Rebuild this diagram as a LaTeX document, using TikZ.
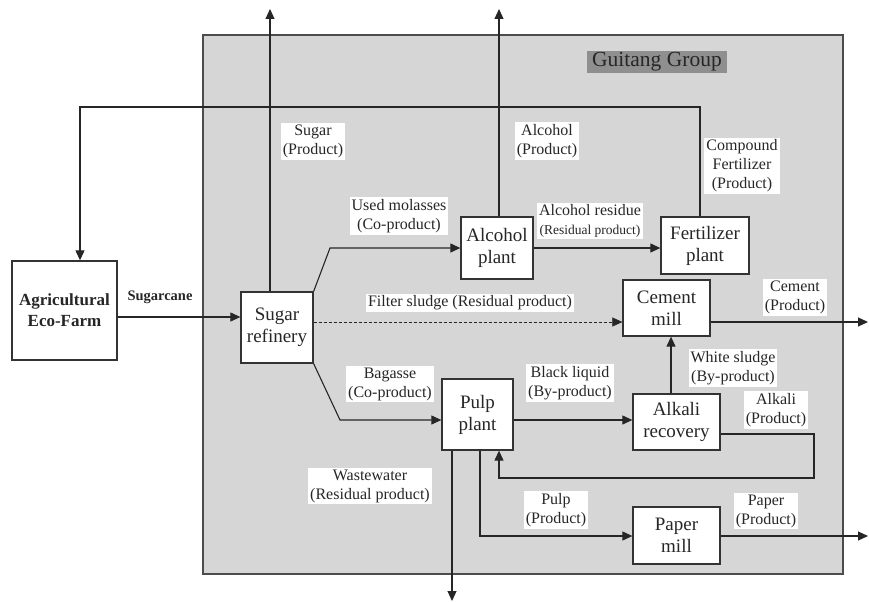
\documentclass[tikz,border=0pt]{standalone}
\usepackage{fontspec}
\setmainfont{Liberation Serif}
\usepackage{xcolor}
\usepackage{tikz}
\usetikzlibrary{arrows.meta,positioning,calc}
\definecolor{groupbg}{gray}{0.84}
\definecolor{tagbg}{gray}{0.56}

\begin{document}
\begin{tikzpicture}[x=1pt, y=-1pt,
  every node/.style={font=\fontsize{16}{19}\selectfont, text=black!85},
  plant/.style={draw=black!80, line width=1.3pt, fill=white, align=center, inner sep=0pt, font=\fontsize{19}{22}\selectfont},
  tag/.style={fill=white, align=center, inner sep=2pt},
  flow/.style={-{Triangle[length=10pt, width=9pt]}, line width=1.1pt, black!85},
]
\useasboundingbox (0,0) rectangle (869,602);
\fill[groupbg, draw=black!70, line width=1.2pt] (203,35) rectangle (843,574);
\node[fill=tagbg, inner xsep=5pt, inner ysep=1.5pt, font=\fontsize{21.5}{23}\selectfont] (grouptag) at (657,62) {Guitang Group};

\node[plant, minimum width=105pt, minimum height=99pt, font=\bfseries\fontsize{17}{21}\selectfont] (farm) at (64.5,310.5) {Agricultural\\Eco-Farm};
\node[plant, minimum width=72pt, minimum height=71pt] (refinery) at (277,327.5) {Sugar\\refinery};
\node[plant, minimum width=72pt, minimum height=62pt] (alcohol) at (497,248) {Alcohol\\plant};
\node[plant, minimum width=88pt, minimum height=57pt] (fert) at (705,245.5) {Fertilizer\\plant};
\node[plant, minimum width=87pt, minimum height=56pt] (cement) at (666.5,308) {Cement\\mill};
\node[plant, minimum width=71pt, minimum height=71pt] (pulp) at (477.5,414.5) {Pulp\\plant};
\node[plant, minimum width=87pt, minimum height=56pt] (alkali) at (676.5,422) {Alkali\\recovery};
\node[plant, minimum width=87pt, minimum height=57pt] (paper) at (676.5,535.5) {Paper\\mill};

\coordinate (sugarout) at (270,9);
\coordinate (alcout) at (499,9);
\coordinate (fbturn) at (700,107);
\coordinate (fbcorner) at (80,107);
\coordinate (canerow) at (0,317);
\coordinate (molbend) at (330,248);
\coordinate (sludgerow) at (0,322);
\coordinate (cementout) at (868,322);
\coordinate (bagbend) at (340,420);
\coordinate (wsline) at (671,0);
\coordinate (alkturn) at (814,434);
\coordinate (alkback) at (814,478);
\coordinate (alkin) at (499,478);
\coordinate (wwout) at (452,601);
\coordinate (pulpbend) at (480,536);
\coordinate (paperout) at (868,536);

\draw[flow] (refinery.north -| sugarout) -- (sugarout);
\draw[flow] (alcohol.north -| alcout) -- (alcout);
\draw[flow] (fert.north -| fbturn) -- (fbturn) -- (fbcorner) -- (farm.north -| fbcorner);
\draw[flow] (farm.east |- canerow) -- (refinery.west |- canerow);
\draw[flow] (refinery.north east) -- (molbend) -- (alcohol.west);
\draw[flow] (alcohol.east) -- (alcohol.east -| fert.west);
\draw[flow, line width=0.6pt, dash pattern=on 3pt off 2pt] (refinery.east |- sludgerow) -- (cement.west |- sludgerow);
\draw[flow] (cement.east |- sludgerow) -- (cementout);
\draw[flow] (refinery.south east) -- (bagbend) -- (pulp.west |- bagbend);
\draw[flow] (pulp.east |- bagbend) -- (alkali.west |- bagbend);
\draw[flow] (alkali.north -| wsline) -- (cement.south -| wsline);
\draw[flow] (alkali.east |- alkturn) -- (alkturn) -- (alkback) -- (alkin) -- (pulp.south -| alkin);
\draw[flow] (pulp.south -| wwout) -- (wwout);
\draw[flow] (pulp.south -| pulpbend) -- (pulpbend) -- (paper.west |- pulpbend);
\draw[flow] (paper.east |- pulpbend) -- (paperout);

\node[font=\bfseries\fontsize{14.5}{17}\selectfont] (canetag) at (160,297) {Sugarcane};
\node[tag] (sugartag) at (313,141) {Sugar\\(Product)};
\node[tag] (moltag) at (399,216) {Used molasses\\(Co-product)};
\node[tag] (alctag) at (547,141) {Alcohol\\(Product)};
\node[tag] (restag) at (590,221) {Alcohol residue\\{\fontsize{13.5}{16}\selectfont(Residual product)}};
\node[tag] (comptag) at (742,166) {Compound\\Fertilizer\\(Product)};
\node[tag] (cemtag) at (795,297) {Cement\\(Product)};
\node[tag] (sludgetag) at (470,303) {Filter sludge (Residual product)};
\node[tag] (bagtag) at (390,384) {Bagasse\\(Co-product)};
\node[tag] (blacktag) at (570,383) {Black liquid\\(By-product)};
\node[tag] (whitetag) at (733,368) {White sludge\\(By-product)};
\node[tag] (alktag) at (776,410) {Alkali\\(Product)};
\node[tag] (wwtag) at (370,486) {Wastewater\\(Residual product)};
\node[tag] (pulptag) at (556,510) {Pulp\\(Product)};
\node[tag] (papertag) at (766,511) {Paper\\(Product)};
\end{tikzpicture}
\end{document}
